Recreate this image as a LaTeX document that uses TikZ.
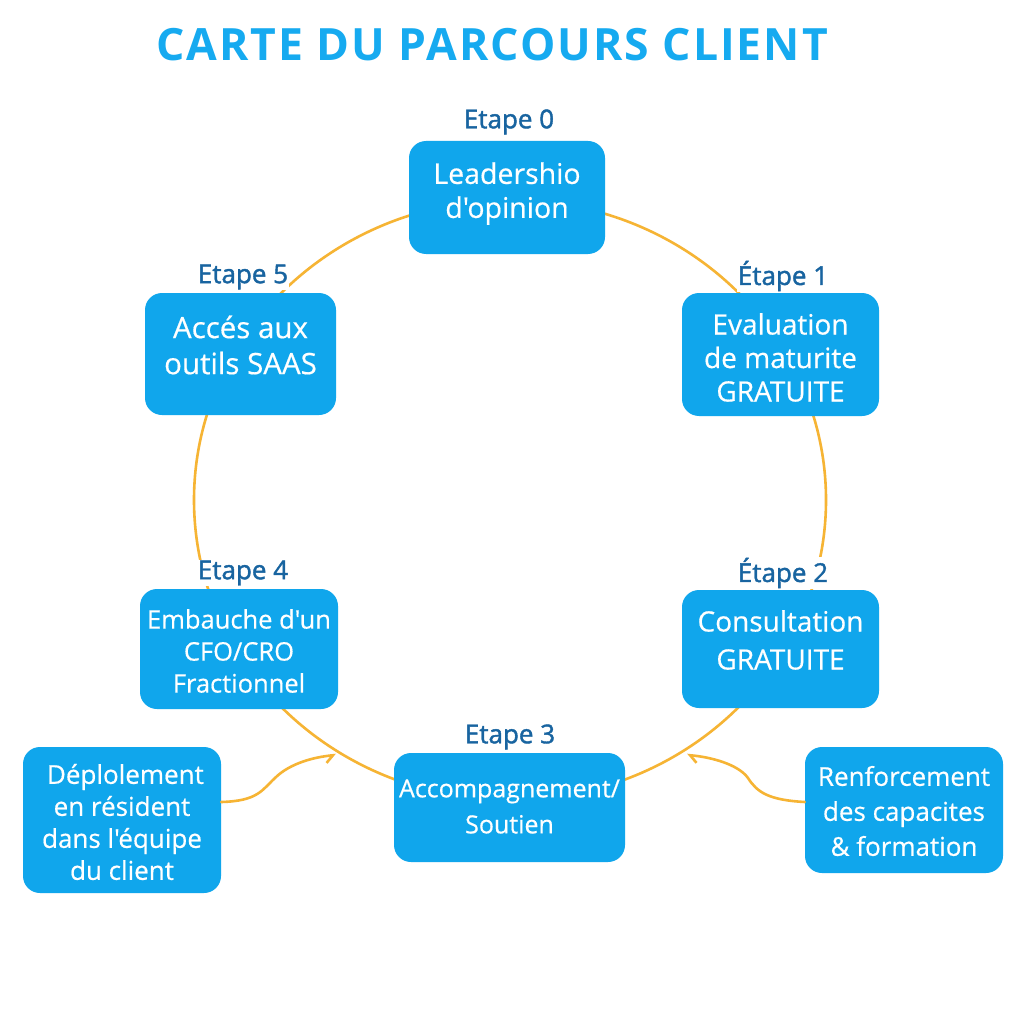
\documentclass[tikz,border=0pt]{standalone}
\usepackage{fontspec}
\setmainfont{Open Sans}[Ligatures=TeXOff]
\usetikzlibrary{arrows.meta}
\definecolor{boxblue}{RGB}{16,166,236}
\definecolor{labblue}{RGB}{24,100,160}
\definecolor{titleblue}{RGB}{22,170,240}
\definecolor{lineorange}{RGB}{246,180,52}
\newfontfamily\titlefam[LetterSpace=4.5]{Open Sans}
\newfontfamily\labfam[FakeBold=1.5]{Open Sans}
\newfontfamily\boxfam[FakeBold=0.5]{Open Sans}
\newcommand{\bsz}[2]{\boxfam\fontsize{#1}{#2}\selectfont}
\newcommand{\labfnt}{\labfam\fontsize{26}{30}\selectfont}
\tikzset{
  box/.style={rectangle, rounded corners=17pt, fill=boxblue, inner sep=0pt},
  bt/.style={text=white, align=center, inner sep=0pt},
  lab/.style={fill=white, text=labblue, font=\labfnt, inner sep=1pt},
  orline/.style={draw=lineorange, line width=2.6pt},
  arr/.style={draw=lineorange, line width=2.6pt, line cap=round},
}
\begin{document}
\begin{tikzpicture}[x=1pt,y=-1pt]
\useasboundingbox[fill=white] (0,0) rectangle (1024,1024);
\node[text=titleblue, font=\titlefam\bfseries\fontsize{44.5}{50}\selectfont, inner sep=0pt] (title) at (492,45) {CARTE DU PARCOURS CLIENT};
% cycle
\draw[orline] (510,500) ellipse [x radius=316pt, y radius=300pt];
% labels
\node[lab] (l0) at (509,122) {Etape 0};
\node[lab] (l1) at (783,276) {Étape 1};
\node[lab] (l2) at (783,573) {Étape 2};
\node[lab] (l3) at (510,737) {Etape 3};
\node[lab] (l4) at (243,573) {Etape 4};
\node[lab] (l5) at (243,277) {Etape 5};
% boxes
\node[box, minimum width=196pt, minimum height=113pt] (b0) at (507,197.5) {};
\node[box, minimum width=197pt, minimum height=123pt] (b1) at (780.5,354.5) {};
\node[box, minimum width=197pt, minimum height=118pt] (b2) at (780.5,649) {};
\node[box, minimum width=231pt, minimum height=109pt] (b3) at (509.5,807.5) {};
\node[box, minimum width=198pt, minimum height=120pt] (b4) at (239,649) {};
\node[box, minimum width=191pt, minimum height=122pt] (b5) at (240.5,354) {};
\node[box, minimum width=198pt, minimum height=146pt] (sl) at (122,820) {};
\node[box, minimum width=198pt, minimum height=126pt] (sr) at (904,810) {};
% box texts
\node[bt, font=\bsz{28.5}{34}] (t0) at ([yshift=4pt]b0.center) {Leadershio\\d'opinion};
\node[bt, font=\bsz{28}{33.5}] (t1) at ([yshift=-3pt]b1.center) {Evaluation\\de maturite\\GRATUITE};
\node[bt, font=\bsz{28}{38}] (t2) at ([yshift=9pt]b2.center) {Consultation\\GRATUITE};
\node[bt, font=\bsz{25}{36}] (t3) at ([yshift=1pt]b3.center) {Accompagnement/\\Soutien};
\node[bt, font=\bsz{25.5}{32}] (t4) at ([yshift=-2pt]b4.center) {Embauche d'un\\CFO/CRO\\Fractionnel};
\node[bt, font=\bsz{29.5}{36}] (t5) at ([yshift=9pt]b5.center) {Accés aux\\outils SAAS};
\node[bt, font=\bsz{26}{32}] (tl) at ([yshift=-2pt]sl.center) {\ Déplolement\\en résident\\dans l'équipe\\du client};
\node[bt, font=\bsz{26}{35}] (tr) at ([yshift=-1pt]sr.center) {Renforcement\\des capacites\\\& formation};
% side arrows
\coordinate (aL) at (336,755);
\coordinate (aR) at (687,755);
\draw[arr, -{Straight Barb[harpoon,swap,length=7pt,width=14pt]}] ([yshift=18pt]sl.east) .. controls (258,801) and (262,790) .. (275,778) .. controls (290,763) and (315,757) .. (aL);
\draw[arr, -{Straight Barb[harpoon,length=7pt,width=14pt]}] ([yshift=8pt]sr.west) .. controls (768,800) and (757,792) .. (748,778) .. controls (738,764) and (710,757) .. (aR);
\end{tikzpicture}
\end{document}
